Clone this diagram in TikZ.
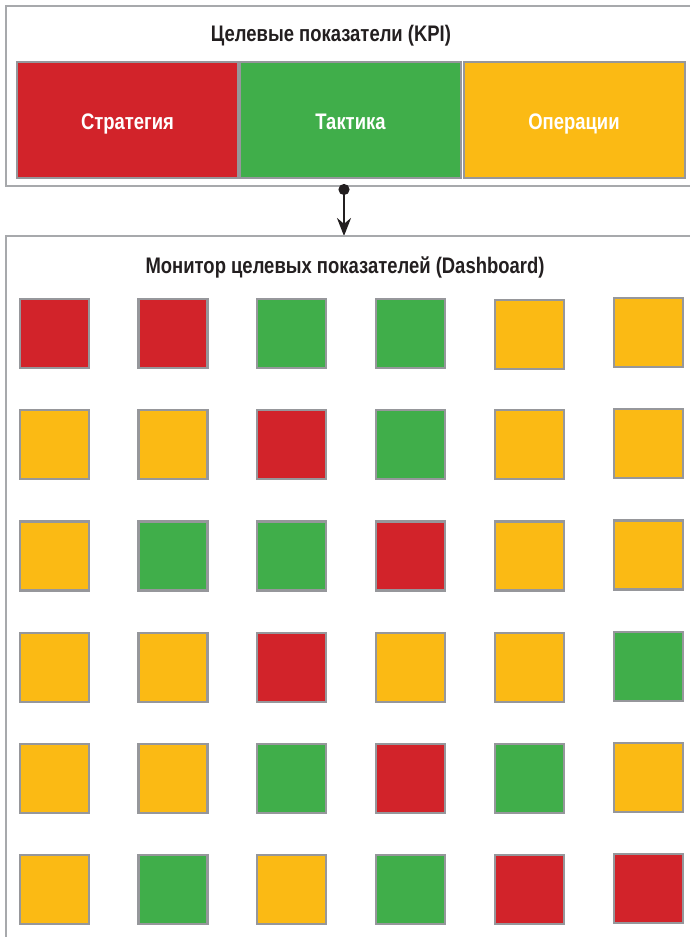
\documentclass[tikz,border=0pt]{standalone}
\usepackage{fontspec}
\setmainfont{Liberation Sans}[FakeStretch=0.82]
\usepackage{tikz}
\usetikzlibrary{arrows.meta}
\definecolor{KPIRed}{HTML}{D2232A}
\definecolor{KPIGreen}{HTML}{40AE4A}
\definecolor{KPIAmber}{HTML}{FBBA14}
\definecolor{KPIFrame}{HTML}{A7A9AC}
\definecolor{KPIEdge}{HTML}{96979B}
\definecolor{KPIInk}{HTML}{231F20}
\tikzset{
  panel/.style={draw=KPIFrame,line width=2.5pt},
  heading/.style={anchor=base,text=KPIInk,font=\fontsize{22.5}{26}\selectfont\bfseries},
  kpiband/.style={draw=KPIEdge,line width=2pt,minimum width=221pt,minimum height=116pt,inner sep=0pt,
    text height=18pt,text depth=0pt,text=white,font=\fontsize{22.5}{26}\selectfont\bfseries},
  tile/.style={draw=KPIEdge,line width=2.2pt,minimum size=69pt,inner sep=0pt},
  red/.style={tile,fill=KPIRed},
  green/.style={tile,fill=KPIGreen},
  amber/.style={tile,fill=KPIAmber}
}

\begin{document}
\begin{tikzpicture}[x=1pt,y=-1pt]
\path[use as bounding box] (0,0) rectangle (689,937);
% KPI panel
\draw[panel] (6,6) rectangle (720,186);
\node[heading] (kpititle) at (331,41.5) {Целевые показатели (KPI)};
\node[kpiband,fill=KPIRed] (strategy) at (127.5,120) {Стратегия};
\node[kpiband,fill=KPIGreen] (tactics) at (350.5,120) {Тактика};
\node[kpiband,fill=KPIAmber] (operations) at (574,120) {Операции};
% link to the dashboard
\coordinate (kpiout) at (344,184);
\coordinate (monin) at (344,236);
\draw[KPIInk,line width=2.4pt,{Circle[length=11pt]}-{Stealth[length=18pt,width=14pt]}] (kpiout) -- (monin);
% Dashboard panel
\draw[panel] (6,236) rectangle (720,960);
\node[heading] (montitle) at (345,273) {Монитор целевых показателей (Dashboard)};
\node[red]   (t11) at (54.5,333.5) {};
\node[red]   (t12) at (173,333.5) {};
\node[green] (t13) at (291.5,333.5) {};
\node[green] (t14) at (410.5,333.5) {};
\node[amber] (t15) at (529.5,334.5) {};
\node[amber] (t16) at (648.5,332.5) {};
\node[amber] (t21) at (54.5,444.7) {};
\node[amber] (t22) at (173,444.7) {};
\node[red]   (t23) at (291.5,444.7) {};
\node[green] (t24) at (410.5,444.7) {};
\node[amber] (t25) at (529.5,444.7) {};
\node[amber] (t26) at (648.5,443.7) {};
\node[amber] (t31) at (54.5,555.9) {};
\node[green] (t32) at (173,555.9) {};
\node[green] (t33) at (291.5,555.9) {};
\node[red]   (t34) at (410.5,555.9) {};
\node[amber] (t35) at (529.5,555.9) {};
\node[amber] (t36) at (648.5,554.9) {};
\node[amber] (t41) at (54.5,667.1) {};
\node[amber] (t42) at (173,667.1) {};
\node[red]   (t43) at (291.5,667.1) {};
\node[amber] (t44) at (410.5,667.1) {};
\node[amber] (t45) at (529.5,667.1) {};
\node[green] (t46) at (648.5,666.1) {};
\node[amber] (t51) at (54.5,778.3) {};
\node[amber] (t52) at (173,778.3) {};
\node[green] (t53) at (291.5,778.3) {};
\node[red]   (t54) at (410.5,778.3) {};
\node[green] (t55) at (529.5,778.3) {};
\node[amber] (t56) at (648.5,777.3) {};
\node[amber] (t61) at (54.5,889.5) {};
\node[green] (t62) at (173,889.5) {};
\node[amber] (t63) at (291.5,889.5) {};
\node[green] (t64) at (410.5,889.5) {};
\node[red]   (t65) at (529.5,889.5) {};
\node[red]   (t66) at (648.5,888.5) {};
\end{tikzpicture}
\end{document}
